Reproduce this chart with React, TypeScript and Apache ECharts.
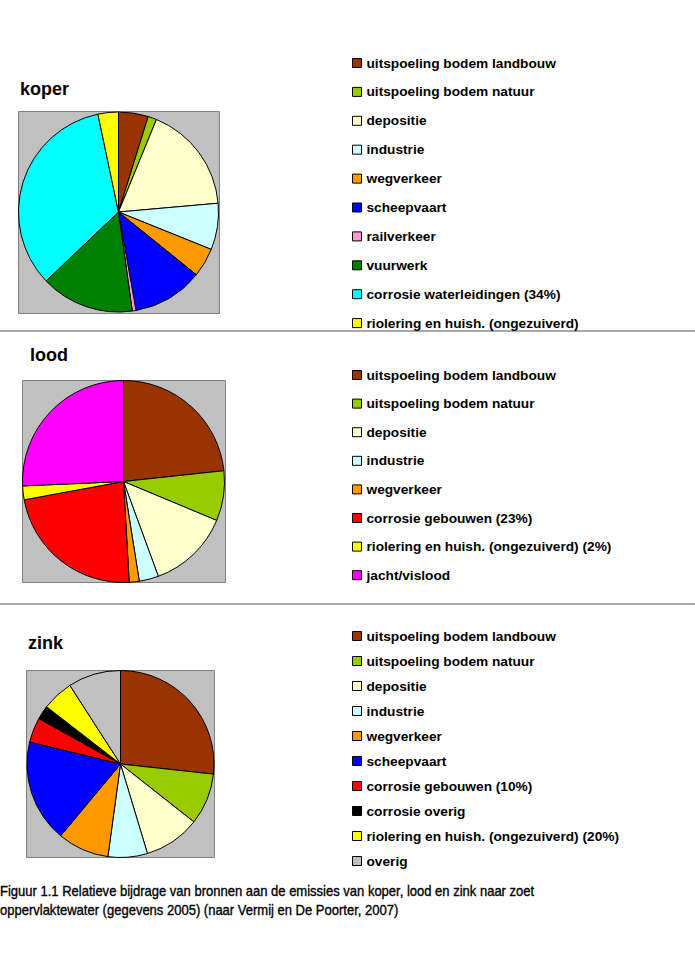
import React, { useEffect, useRef } from "react";
import * as echarts from "echarts";

const koperNames = [
  "uitspoeling bodem landbouw",
  "uitspoeling bodem natuur",
  "depositie",
  "industrie",
  "wegverkeer",
  "scheepvaart",
  "railverkeer",
  "vuurwerk",
  "corrosie waterleidingen (34%)",
  "riolering en huish. (ongezuiverd)",
];
const koperValues = [4.8, 1.4, 17.4, 7.5, 4.7, 11.4, 0.6, 15.1, 33.8, 3.3];
const koperColors = ["#993300", "#99CC00", "#FFFFCC", "#CCFFFF", "#FF9900", "#0000FF", "#FF99CC", "#008000", "#00FFFF", "#FFFF00"];

const loodNames = [
  "uitspoeling bodem landbouw",
  "uitspoeling bodem natuur",
  "depositie",
  "industrie",
  "wegverkeer",
  "corrosie gebouwen (23%)",
  "riolering en huish. (ongezuiverd) (2%)",
  "jacht/vislood",
];
const loodValues = [23.3, 8.0, 13.1, 3.1, 1.6, 23.0, 2.2, 25.7];
const loodColors = ["#993300", "#99CC00", "#FFFFCC", "#CCFFFF", "#FF9900", "#FF0000", "#FFFF00", "#FF00FF"];

const zinkNames = [
  "uitspoeling bodem landbouw",
  "uitspoeling bodem natuur",
  "depositie",
  "industrie",
  "wegverkeer",
  "scheepvaart",
  "corrosie gebouwen (10%)",
  "corrosie overig",
  "riolering en huish. (ongezuiverd) (20%)",
  "overig",
];
const zinkValues = [26.7, 8.9, 9.7, 6.8, 8.9, 17.7, 4.3, 2.4, 5.4, 9.1];
const zinkColors = ["#993300", "#99CC00", "#FFFFCC", "#CCFFFF", "#FF9900", "#0000FF", "#FF0000", "#000000", "#FFFF00", "#C0C0C0"];

const titles = ["koper", "lood", "zink"];
const captionLines = [
  "Figuur 1.1 Relatieve bijdrage van bronnen aan de emissies van koper, lood en zink naar zoet",
  "oppervlaktewater (gegevens 2005) (naar Vermij en De Poorter, 2007)",
];

const FONT = "Liberation Sans, Arial, sans-serif";

function makeData(names: string[], values: number[], colors: string[]) {
  return names.map((n, i) => ({ name: n, value: values[i], itemStyle: { color: colors[i] } }));
}

function pieSeries(names: string[], values: number[], colors: string[], center: number[], r: number) {
  return {
    type: "pie",
    center,
    radius: r,
    startAngle: 90,
    clockwise: true,
    avoidLabelOverlap: false,
    label: { show: false },
    labelLine: { show: false },
    emphasis: { disabled: true },
    silent: true,
    itemStyle: { borderColor: "#000", borderWidth: 1 },
    data: makeData(names, values, colors),
  };
}

function legendCfg(names: string[], top: number, gap: number) {
  return {
    data: names,
    orient: "vertical",
    left: 352,
    top,
    itemGap: gap,
    itemWidth: 9,
    itemHeight: 9,
    icon: "rect",
    selectedMode: false,
    padding: 0,
    itemStyle: { borderColor: "#000", borderWidth: 1 },
    textStyle: { fontFamily: FONT, fontWeight: "bold", fontSize: 13.7, color: "#000", lineHeight: 14 },
  };
}

export default function App() {
  const ref = useRef<HTMLDivElement>(null);
  useEffect(() => {
    if (!ref.current) return;
    const chart = echarts.init(ref.current, undefined, { renderer: "svg" });
    const bgRect = (x: number, y: number, w: number, h: number) => ({
      type: "rect",
      shape: { x, y, width: w, height: h },
      style: { fill: "#C0C0C0", stroke: "#808080", lineWidth: 1 },
      z: -10,
    });
    const captionStyle = (t: string) => ({
      text: t,
      fontFamily: FONT,
      fontSize: 14,
      fill: "#000",
      stroke: "#000",
      lineWidth: 0.35,
    });
    chart.setOption({
      animation: false,
      backgroundColor: "#fff",
      title: [
        { text: titles[0], left: 20, top: 80, textStyle: { fontFamily: FONT, fontWeight: "bold", fontSize: 18, color: "#000" }, padding: 0 },
        { text: titles[1], left: 30, top: 346, textStyle: { fontFamily: FONT, fontWeight: "bold", fontSize: 18, color: "#000" }, padding: 0 },
        { text: titles[2], left: 28, top: 634, textStyle: { fontFamily: FONT, fontWeight: "bold", fontSize: 18, color: "#000" }, padding: 0 },
      ],
      legend: [
        legendCfg(koperNames, 56, 14.9),
        legendCfg(loodNames, 368, 14.6),
        legendCfg(zinkNames, 629, 11),
      ],
      graphic: [
        bgRect(18.5, 111.5, 201, 202),
        bgRect(22.5, 380.5, 203, 202),
        bgRect(26.5, 670.5, 188, 187),
        { type: "line", shape: { x1: 0, y1: 331, x2: 695, y2: 331 }, style: { stroke: "#555", lineWidth: 1 } },
        { type: "line", shape: { x1: 0, y1: 604, x2: 695, y2: 604 }, style: { stroke: "#555", lineWidth: 1 } },
        { type: "text", x: 0, y: 884, scaleX: 0.93, style: captionStyle(captionLines[0]) },
        { type: "text", x: 0, y: 903, scaleX: 0.93, style: captionStyle(captionLines[1]) },
      ],
      series: [
        pieSeries(koperNames, koperValues, koperColors, [118.5, 212], 100),
        pieSeries(loodNames, loodValues, loodColors, [123.5, 481.5], 101),
        pieSeries(zinkNames, zinkValues, zinkColors, [120.5, 764], 93.5),
      ],
    });
    return () => chart.dispose();
  }, []);
  return <div ref={ref} style={{ position: "absolute", left: 0, top: 0, width: 695, height: 974 }} />;
}
